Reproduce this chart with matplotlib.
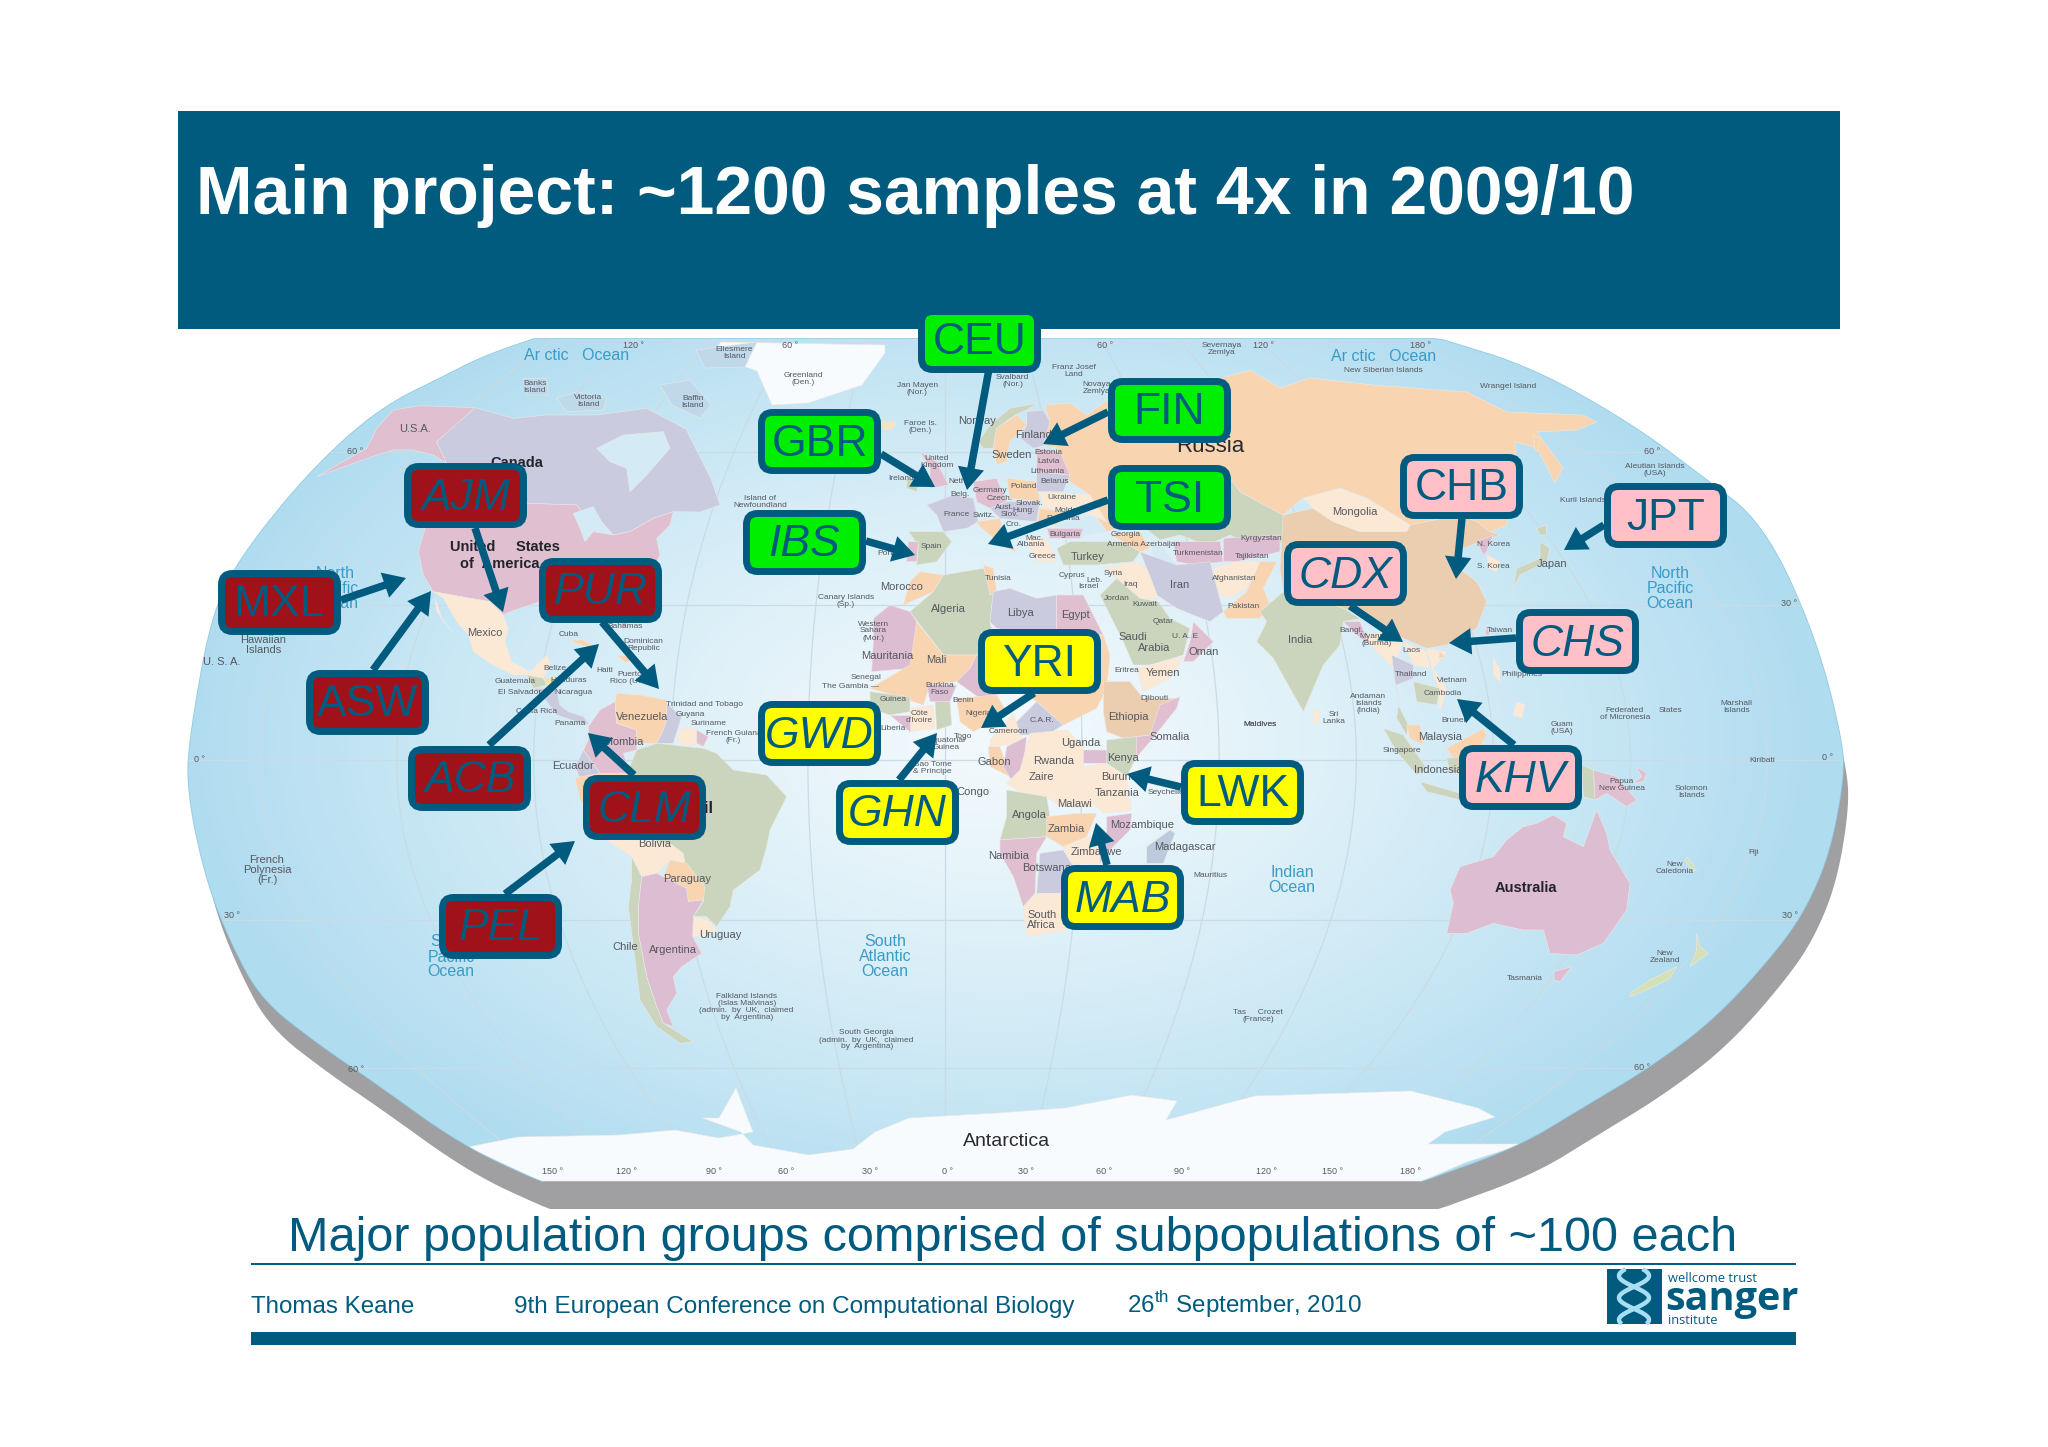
"""Slide: 1000 Genomes main project sample map."""
import numpy as np
import matplotlib
matplotlib.use('Agg')
import matplotlib.pyplot as plt
from matplotlib.patches import FancyBboxPatch, FancyArrowPatch, Polygon, Rectangle, ArrowStyle

plt.rcParams['font.family'] = ['Liberation Sans', 'DejaVu Sans']
plt.rcParams['mathtext.fontset'] = 'custom'
plt.rcParams['mathtext.rm'] = 'Liberation Sans'

TEAL = '#005b7f'
RED = '#9f1219'
GREEN = '#00ee00'
YELLOW = '#ffff00'
ROSE = '#ffc0c8'

# population groups
AMERICAS = ['AJM', 'MXL', 'ASW', 'PUR', 'ACB', 'CLM', 'PEL']
EUROPE = ['CEU', 'GBR', 'IBS', 'FIN', 'TSI']
AFRICA = ['GWD', 'GHN', 'YRI', 'LWK', 'MAB']
ASIA = ['CHB', 'JPT', 'CDX', 'CHS', 'KHV']
ITALIC_CODES = ['AJM', 'PUR', 'ACB', 'CLM', 'PEL', 'IBS', 'GWD', 'GHN', 'MAB', 'CDX', 'CHS', 'KHV']

# box left/top corner in image pixels, then arrow tail and head
BOX_AT = {
    'AJM': (404, 463), 'MXL': (218, 570), 'ASW': (306, 670), 'PUR': (539, 558),
    'ACB': (408, 746), 'CLM': (583, 775), 'PEL': (439, 894),
    'CEU': (918, 308), 'GBR': (758, 409), 'IBS': (743, 510), 'FIN': (1108, 378),
    'TSI': (1108, 465),
    'GWD': (758, 701), 'GHN': (836, 780), 'YRI': (978, 629), 'LWK': (1181, 760),
    'MAB': (1061, 865),
    'CHB': (1400, 454), 'JPT': (1604, 483), 'CDX': (1284, 541), 'CHS': (1516, 609),
    'KHV': (1459, 745),
}
ARROW_AT = {
    'AJM': ((475, 528), (503, 612)), 'MXL': ((341, 600), (406, 578)),
    'ASW': ((373, 670), (431, 591)), 'PUR': ((602, 622), (659, 689)),
    'ACB': ((489, 745), (599, 644)), 'CLM': ((634, 775), (588, 733)),
    'PEL': ((505, 894), (575, 841)),
    'CEU': ((989, 369), (967, 490)), 'GBR': ((881, 454), (935, 487)),
    'IBS': ((866, 541), (915, 555)), 'FIN': ((1108, 412), (1043, 444)),
    'TSI': ((1108, 500), (988, 544)),
    'GHN': ((899, 780), (937, 733)), 'YRI': ((1034, 693), (981, 728)),
    'LWK': ((1181, 787), (1127, 774)), 'MAB': ((1107, 865), (1096, 823)),
    'CHB': ((1462, 518), (1456, 579)), 'JPT': ((1604, 525), (1564, 550)),
    'CDX': ((1350, 606), (1403, 642)), 'CHS': ((1516, 638), (1449, 643)),
    'KHV': ((1514, 745), (1457, 699)),
}

# outline of the globe, clockwise from the top left
GLOBE_EDGE = [(570, 328), (533, 339), (480, 358), (447, 375), (380, 408), (313, 468), (247, 548),
              (213, 608), (190, 735), (187, 790), (206, 880), (232, 945), (262, 1000), (320, 1045),
              (373, 1081), (462, 1145), (540, 1181), (600, 1205), (1360, 1205), (1422, 1181),
              (1517, 1147), (1583, 1107), (1650, 1067), (1717, 1017), (1783, 943), (1810, 900),
              (1830, 850), (1843, 783), (1843, 743), (1815, 635), (1763, 523), (1700, 475),
              (1633, 425), (1533, 368), (1440, 339), (1400, 328)]

# crop frames the tracing was done in: left, top, scale
FRAMES = {'px': (0, 0, 1), 'A': (180, 335, 3), 'S': (500, 700, 3), 'E': (830, 335, 3),
          'F': (850, 600, 3), 'R': (1200, 335, 3), 'P': (1350, 650, 3)}

PINK = '#dfbfd0'
LILAC = '#cacbdf'
ORANGE = '#f8d5b0'
CREAM = '#fbe9d6'
SAGE = '#cbd5bd'
MAUVE = '#ddbdd2'
TAN = '#ebcdb0'
ICE = '#f8fbfd'
WATER = '#d4ebf6'

LAND = [
    (ICE, 'px', [(721, 342), (885, 345), (885, 353), (862, 385), (808, 403), (772, 405), (757, 371), (711, 354)]),
    (PINK, 'A', [(410, 425), (480, 385), (560, 340), (590, 280), (640, 225), (720, 212), (885, 218), (830, 270), (770, 320), (800, 385), (760, 360), (700, 345), (640, 345), (590, 360), (520, 385)]),
    (LILAC, 'A', [(885, 218), (1000, 250), (1100, 240), (1250, 240), (1400, 220), (1518, 282), (1593, 432), (1620, 510), (1560, 531), (1480, 530), (1420, 550), (1350, 590), (1300, 600), (1230, 560), (1190, 510), (1040, 505), (780, 500), (800, 385), (770, 320)]),
    (WATER, 'A', [(1250, 340), (1330, 300), (1450, 290), (1470, 340), (1400, 420), (1350, 470), (1340, 400), (1290, 380)]),
    ('#bfd8ea', 'A', [(1030, 130), (1100, 130), (1105, 180), (1040, 180)]),
    ('#bfd8ea', 'A', [(1130, 190), (1190, 170), (1280, 190), (1270, 225), (1160, 230)]),
    ('#bfd8ea', 'px', [(660, 385), (690, 380), (711, 405), (700, 418), (672, 405)]),
    ('#bfd8ea', 'px', [(696, 350), (757, 342), (745, 367), (705, 368)]),
    (PINK, 'A', [(780, 500), (1040, 505), (1190, 510), (1230, 560), (1300, 600), (1350, 590), (1420, 550), (1480, 530), (1470, 570), (1430, 610), (1440, 660), (1420, 700), (1400, 800), (1330, 880), (1300, 810), (1200, 800), (1080, 800), (990, 830), (970, 840), (930, 800), (870, 790), (760, 770), (730, 720), (715, 650), (735, 580)]),
    (WATER, 'A', [(1180, 535), (1240, 515), (1265, 560), (1300, 600), (1240, 590), (1215, 620), (1200, 580)]),
    (CREAM, 'A', [(760, 770), (870, 790), (930, 800), (970, 840), (985, 880), (975, 920), (995, 980), (1050, 1010), (1100, 960), (1110, 985), (1090, 1030), (1040, 1020), (1000, 1020), (930, 985), (880, 950), (865, 900), (830, 860), (790, 790)]),
    (CREAM, 'A', [(765, 790), (790, 860), (815, 890), (770, 830)]),
    (SAGE, 'A', [(1040, 1020), (1090, 1030), (1100, 1050), (1060, 1060)]),
    ('#f6e2a2', 'A', [(1090, 1030), (1150, 1025), (1110, 1060)]),
    (LILAC, 'A', [(1060, 1060), (1130, 1060), (1140, 1110), (1165, 1130), (1210, 1145), (1230, 1170), (1190, 1160), (1130, 1140), (1100, 1100)]),
    (ORANGE, 'A', [(1170, 915), (1210, 915), (1260, 945), (1190, 925)]),
    (ORANGE, 'A', [(1310, 960), (1360, 965), (1340, 985)]),
    # South America
    (PINK, 'S', [(265, 80), (300, 30), (345, 5), (350, 70), (410, 90), (410, 150), (370, 160), (390, 220), (300, 220), (250, 150), (265, 120)]),
    (ORANGE, 'S', [(345, 5), (350, -20), (420, -15), (500, 0), (500, 60), (490, 90), (470, 130), (410, 130), (410, 90), (350, 70)]),
    (LILAC, 'S', [(500, 10), (545, 50), (520, 130), (470, 130), (490, 90), (500, 60)]),
    (CREAM, 'S', [(545, 85), (590, 85), (590, 130), (560, 140), (530, 120)]),
    (PINK, 'S', [(590, 90), (625, 110), (610, 140), (590, 130)]),
    (LILAC, 'S', [(250, 150), (300, 220), (240, 235), (225, 200)]),
    (ORANGE, 'S', [(225, 235), (245, 230), (300, 220), (390, 220), (420, 380), (400, 450), (320, 420), (240, 300)]),
    (SAGE, 'S', [(410, 150), (470, 130), (520, 135), (560, 140), (610, 145), (650, 160), (700, 210), (800, 225), (860, 290), (810, 390), (800, 440), (780, 510), (700, 570), (690, 620), (650, 680), (620, 650), (580, 650), (610, 605), (610, 550), (560, 500), (510, 480), (500, 440), (430, 400), (400, 300), (380, 220)]),
    (CREAM, 'S', [(320, 420), (400, 420), (420, 420), (510, 430), (550, 460), (555, 490), (500, 490), (470, 520), (425, 530), (395, 470)]),
    (ORANGE, 'S', [(510, 480), (560, 490), (615, 560), (610, 600), (565, 605), (560, 565), (490, 530)]),
    (CREAM, 'S', [(580, 650), (625, 660), (650, 690), (610, 710), (578, 710)]),
    (MAUVE, 'S', [(425, 530), (470, 520), (560, 565), (565, 605), (610, 600), (580, 650), (578, 710), (605, 760), (545, 800), (520, 830), (530, 880), (500, 930), (520, 980), (490, 970), (470, 920), (440, 830), (415, 700), (415, 620)]),
    (SAGE, 'S', [(395, 470), (425, 530), (415, 620), (415, 700), (440, 830), (470, 920), (490, 970), (580, 1025), (540, 1030), (470, 980), (420, 900), (400, 740), (385, 620), (395, 540)]),
    # Antarctica
    (ICE, 'px', [(468, 1147), (518, 1137), (619, 1135), (675, 1130), (719, 1138), (753, 1132), (736, 1088), (719, 1118), (702, 1118), (741, 1132), (753, 1145), (809, 1155), (853, 1149), (875, 1132), (909, 1118), (998, 1113), (1065, 1108), (1132, 1095), (1177, 1101), (1166, 1120), (1221, 1105), (1255, 1096), (1411, 1091), (1478, 1108), (1495, 1117), (1445, 1132), (1428, 1144), (1523, 1144), (1467, 1162), (1422, 1181), (540, 1181)]),
    # Europe and the Middle East
    ('#f6e4c0', 'E', [(150, 260), (200, 260), (190, 280), (160, 285)]),
    (SAGE, 'E', [(445, 320), (480, 270), (540, 220), (620, 205), (590, 225), (555, 240), (500, 280), (490, 340), (460, 340)]),
    (ORANGE, 'E', [(490, 340), (500, 280), (560, 240), (590, 270), (540, 320), (530, 380), (500, 390)]),
    (LILAC, 'E', [(590, 230), (640, 225), (660, 260), (650, 330), (610, 340), (570, 310), (590, 270)]),
    (ORANGE, 'px', [(1045, 405), (1070, 403), (1087, 415), (1110, 398), (1163, 378), (1223, 378), (1250, 370), (1280, 388), (1310, 378), (1373, 385), (1467, 392), (1507, 412), (1583, 415), (1597, 422), (1577, 430), (1537, 432), (1563, 468), (1555, 483), (1537, 448), (1515, 442), (1517, 468), (1507, 525), (1490, 532), (1477, 522), (1460, 515), (1410, 525), (1367, 498), (1340, 488), (1303, 498), (1283, 515), (1240, 492), (1233, 482), (1200, 478), (1165, 500), (1135, 520), (1107, 532), (1097, 518), (1090, 495), (1070, 482), (1063, 468), (1057, 448), (1043, 445), (1050, 422)]),
    (SAGE, 'px', [(1200, 478), (1233, 482), (1240, 492), (1283, 515), (1300, 530), (1270, 550), (1250, 545), (1230, 535), (1207, 545), (1180, 535), (1160, 540), (1135, 520), (1165, 500)]),
    (WATER, 'E', [(960, 620), (1000, 640), (1040, 690), (1010, 710), (975, 680)]),
    (WATER, 'E', [(680, 565), (790, 540), (830, 590), (700, 615)]),
    (MAUVE, 'E', [(1030, 620), (1170, 620), (1180, 680), (1090, 690), (1040, 680)]),
    (MAUVE, 'E', [(1180, 610), (1350, 600), (1350, 650), (1220, 680), (1180, 680)]),
    (CREAM, 'E', [(1150, 700), (1220, 680), (1290, 680), (1250, 760), (1200, 790), (1150, 770)]),
    (ORANGE, 'E', [(1180, 830), (1250, 770), (1290, 680), (1340, 680), (1300, 760), (1320, 810), (1290, 850), (1190, 850)]),
    (LILAC, 'E', [(930, 650), (1040, 690), (1140, 680), (1180, 830), (1140, 860), (1040, 820), (980, 780), (950, 700)]),
    (SAGE, 'E', [(680, 640), (720, 620), (880, 620), (930, 650), (910, 680), (800, 690), (700, 690)]),
    (ORANGE, 'E', [(840, 600), (930, 590), (960, 640), (930, 650), (880, 620)]),
    (CREAM, 'E', [(820, 700), (920, 680), (950, 700), (985, 790), (930, 790), (860, 730)]),
    (SAGE, 'E', [(810, 780), (860, 730), (930, 790), (985, 800), (1020, 850), (1080, 880), (1060, 960), (960, 990), (910, 990), (880, 920)]),
    (PINK, 'E', [(1090, 860), (1150, 920), (1090, 980), (1060, 980), (1080, 920)]),
    (CREAM, 'E', [(920, 1000), (1060, 965), (1020, 1030), (940, 1070)]),
    (PINK, 'E', [(270, 350), (320, 380), (355, 450), (300, 460), (300, 400)]),
    (SAGE, 'E', [(230, 430), (270, 430), (260, 470), (230, 460)]),
    (LILAC, 'E', [(290, 510), (370, 480), (430, 490), (445, 560), (410, 580), (340, 590), (320, 540)]),
    (SAGE, 'E', [(235, 590), (340, 590), (365, 620), (320, 680), (260, 690), (265, 630)]),
    (PINK, 'E', [(235, 620), (265, 620), (260, 680), (230, 680)]),
    (PINK, 'E', [(430, 440), (500, 430), (530, 500), (480, 520), (440, 500)]),
    (ORANGE, 'E', [(530, 430), (620, 440), (630, 500), (540, 490)]),
    (LILAC, 'E', [(480, 520), (530, 500), (630, 500), (620, 560), (510, 550)]),
    (ORANGE, 'E', [(440, 560), (510, 550), (520, 600), (560, 650), (530, 640), (480, 600), (450, 575)]),
    (CREAM, 'E', [(630, 470), (780, 480), (830, 560), (760, 530), (640, 520)]),
    (ORANGE, 'E', [(630, 520), (700, 530), (680, 570), (620, 570)]),
    (MAUVE, 'E', [(650, 580), (760, 580), (750, 610), (660, 610)]),
    (CREAM, 'E', [(590, 610), (650, 610), (680, 680), (620, 680)]),
    (LILAC, 'E', [(620, 410), (720, 420), (700, 470), (620, 470)]),
    (PINK, 'E', [(620, 340), (690, 350), (720, 420), (620, 410)]),
    # Africa
    (ORANGE, 'E', [(270, 710), (340, 720), (310, 770), (220, 810), (240, 740)]),
    (SAGE, 'E', [(340, 720), (460, 700), (490, 770), (480, 860), (490, 910), (440, 960), (340, 960), (240, 830), (310, 770)]),
    (ORANGE, 'E', [(460, 690), (490, 700), (500, 770), (480, 780)]),
    (LILAC, 'E', [(490, 770), (540, 760), (620, 790), (680, 780), (680, 900), (650, 910), (500, 880), (480, 860)]),
    (PINK, 'E', [(680, 780), (760, 780), (810, 880), (820, 900), (680, 890)]),
    (MAUVE, 'E', [(130, 850), (180, 810), (240, 830), (260, 860), (260, 990), (240, 1000), (125, 1010), (130, 920)]),
    (ORANGE, 'E', [(260, 860), (340, 960), (440, 960), (420, 1000), (380, 1040), (300, 1050), (280, 1110), (190, 1080), (120, 1060), (240, 990)]),
    (MAUVE, 'E', [(440, 960), (490, 910), (600, 1000), (560, 1060), (500, 1080), (450, 1090), (380, 1040), (420, 1000)]),
    (ORANGE, 'E', [(650, 910), (820, 900), (840, 960), (830, 1060), (800, 1120), (700, 1170), (620, 1100), (560, 1060), (600, 1000)]),
    (TAN, 'E', [(820, 1040), (900, 1040), (940, 1090), (1050, 1090), (960, 1200), (880, 1210), (830, 1190), (820, 1130)]),
    (PINK, 'E', [(1050, 1085), (1040, 1120), (960, 1220), (900, 1290), (870, 1270), (880, 1210), (960, 1200), (990, 1110)]),
    (ORANGE, 'E', [(380, 1090), (500, 1080), (530, 1130), (470, 1170), (430, 1190), (390, 1160)]),
    (SAGE, 'E', [(120, 1070), (240, 1085), (240, 1130), (180, 1140), (120, 1120)]),
    (CREAM, 'E', [(240, 1120), (310, 1110), (315, 1180), (240, 1190)]),
    (SAGE, 'E', [(315, 1100), (360, 1100), (365, 1170), (320, 1185)]),
    (MAUVE, 'E', [(290, 1050), (380, 1050), (360, 1100), (300, 1100)]),
    (MAUVE, 'E', [(180, 1140), (240, 1140), (240, 1190)]),
    (LILAC, 'E', [(550, 1170), (620, 1100), (700, 1170), (650, 1200), (560, 1200)]),
    (CREAM, 'F', [(420, 420), (490, 340), (510, 400), (520, 430), (420, 440)]),
    (ORANGE, 'F', [(415, 440), (450, 440), (480, 530), (420, 500)]),
    (MAUVE, 'F', [(470, 440), (530, 410), (520, 500), (490, 550), (460, 500)]),
    (CREAM, 'F', [(540, 400), (650, 390), (700, 440), (700, 500), (730, 620), (630, 620), (590, 590), (530, 590), (470, 550), (510, 510)]),
    (MAUVE, 'F', [(700, 450), (780, 450), (770, 490), (700, 490)]),
    (SAGE, 'F', [(770, 420), (860, 410), (860, 470), (830, 530), (770, 490)]),
    (CREAM, 'F', [(700, 500), (770, 490), (830, 530), (845, 630), (760, 640), (720, 600)]),
    (SAGE, 'F', [(470, 570), (590, 590), (600, 650), (590, 710), (450, 720), (470, 650)]),
    (ORANGE, 'F', [(590, 650), (680, 640), (740, 640), (710, 710), (640, 740), (590, 710)]),
    (MAUVE, 'F', [(770, 650), (845, 640), (840, 690), (780, 750), (750, 790), (740, 720), (770, 700)]),
    (CREAM, 'F', [(640, 740), (710, 710), (750, 720), (750, 790), (660, 790)]),
    (PINK, 'F', [(450, 720), (590, 710), (560, 760), (555, 880), (520, 920), (490, 830), (450, 760)]),
    (LILAC, 'F', [(570, 760), (640, 750), (670, 800), (630, 880), (560, 880)]),
    (CREAM, 'F', [(520, 920), (560, 880), (640, 880), (690, 880), (650, 990), (530, 1010)]),
    ('#bccbdc', 'F', [(960, 690), (975, 700), (940, 790), (890, 790), (890, 740)]),
    # Asia
    (TAN, 'R', [(250, 540), (340, 520), (400, 560), (480, 590), (620, 590), (630, 570), (780, 540), (830, 560), (870, 590), (900, 600), (840, 620), (790, 640), (750, 680), (830, 740), (860, 800), (830, 880), (740, 930), (680, 940), (610, 910), (560, 890), (490, 840), (400, 810), (320, 800), (250, 770), (240, 700)]),
    (CREAM, 'R', [(310, 490), (420, 460), (500, 490), (630, 570), (620, 590), (480, 590), (400, 560), (340, 520)]),
    (MAUVE, 'R', [(830, 620), (880, 600), (860, 650), (850, 660)]),
    (CREAM, 'R', [(860, 660), (900, 680), (890, 710), (865, 700)]),
    (SAGE, 'R', [(1020, 620), (1050, 640), (1040, 680), (960, 720), (940, 760), (950, 700), (1020, 670)]),
    (SAGE, 'R', [(1010, 580), (1040, 570), (1040, 600), (1020, 600)]),
    (SAGE, 'R', [(180, 830), (250, 770), (320, 800), (400, 810), (430, 820), (480, 850), (430, 860), (420, 930), (370, 990), (310, 1130), (270, 1060), (220, 970), (170, 920), (200, 860)]),
    (MAUVE, 'R', [(430, 860), (480, 860), (510, 930), (470, 900)]),
    (CREAM, 'R', [(490, 900), (560, 890), (610, 920), (580, 1000), (530, 950)]),
    (LILAC, 'R', [(575, 960), (640, 990), (640, 1030), (590, 1050), (600, 1110), (585, 1040)]),
    (CREAM, 'R', [(610, 920), (680, 950), (690, 1000), (640, 990)]),
    (CREAM, 'R', [(680, 940), (740, 950), (700, 1000), (740, 1060), (720, 1130), (710, 1050)]),
    (SAGE, 'R', [(640, 1040), (720, 1060), (710, 1110), (650, 1100)]),
    (SAGE, 'R', [(595, 1110), (625, 1170), (620, 1200), (590, 1150)]),
    (ORANGE, 'R', [(620, 1170), (660, 1170), (670, 1230), (630, 1210)]),
    (ORANGE, 'R', [(740, 1240), (850, 1180), (860, 1200), (830, 1260), (760, 1270)]),
    (SAGE, 'R', [(550, 1180), (610, 1200), (680, 1300), (650, 1320), (590, 1250)]),
    (SAGE, 'R', [(740, 1270), (830, 1260), (800, 1320), (750, 1310)]),
    (SAGE, 'R', [(660, 1340), (800, 1380), (780, 1395), (680, 1370)]),
    (CREAM, 'R', [(340, 1120), (360, 1130), (355, 1170), (340, 1165)]),
    (CREAM, 'R', [(880, 970), (900, 1000), (900, 1040), (880, 1020)]),
    (CREAM, 'R', [(950, 1100), (975, 1110), (965, 1150), (940, 1140)]),
    (PINK, 'R', [(860, 870), (870, 900), (855, 900)]),
    (ORANGE, 'R', [(720, 950), (735, 965), (715, 970)]),
    (ORANGE, 'R', [(1000, 300), (1020, 310), (1015, 350), (1005, 345)]),
    (MAUVE, 'P', [(290, 850), (310, 760), (300, 720), (330, 650), (430, 620), (470, 570), (520, 530), (560, 520), (610, 495), (650, 520), (640, 560), (700, 590), (740, 480), (770, 550), (780, 600), (840, 700), (830, 780), (760, 880), (680, 915), (600, 910), (580, 840), (520, 840), (430, 820), (350, 850)]),
    (MAUVE, 'P', [(612, 965), (665, 950), (630, 995), (612, 990)]),
    ('#d5e0b4', 'P', [(1040, 850), (1050, 890), (1075, 910), (1020, 950), (1040, 900)]),
    ('#d5e0b4', 'P', [(840, 1030), (900, 990), (980, 950), (960, 985), (890, 1020), (840, 1040)]),
    (PINK, 'P', [(730, 360), (800, 380), (860, 450), (830, 470), (770, 430), (735, 450)]),
    (SAGE, 'P', [(695, 345), (730, 360), (735, 450), (700, 440)]),
    (PINK, 'P', [(860, 350), (890, 370), (880, 395), (850, 400), (875, 380)]),
    ('#d5e0b4', 'P', [(1010, 620), (1040, 660), (1030, 665), (1005, 630)]),
]

COUNTRY_NAMES = [  # size 8
    ('Mexico', 'A', 915, 893), ('Venezuela', 'A', 1385, 1147), ('Colombia', 'A', 1320, 1222),
    ('Ecuador', 'A', 1178, 1293), ('U.S.A.', 'A', 705, 282), ('U. S. A.', 'A', 125, 982),
    ('Hawaiian\nIslands', 'A', 250, 930),
    ('Bolivia', 'S', 465, 433), ('Paraguay', 'S', 560, 538), ('Uruguay', 'S', 660, 705),
    ('Chile', 'S', 375, 740), ('Argentina', 'S', 520, 750),
    ('Norway', 'E', 440, 257), ('Finland', 'E', 610, 300), ('Sweden', 'E', 545, 360),
    ('Turkey', 'E', 772, 665), ('Iran', 'E', 1048, 750), ('Saudi', 'E', 908, 905),
    ('Arabia', 'E', 972, 940), ('Oman', 'E', 1120, 950), ('Yemen', 'E', 1000, 1015),
    ('Ethiopia', 'E', 895, 1145), ('Somalia', 'E', 1020, 1205), ('Kenya', 'E', 878, 1270),
    ('Uganda', 'E', 752, 1225), ('Mauritania', 'E', 172, 963), ('Mali', 'E', 318, 975),
    ('Morocco', 'E', 215, 757), ('Algeria', 'E', 355, 822), ('Libya', 'E', 570, 835),
    ('Egypt', 'E', 735, 840),
    ('Gabon', 'F', 432, 485), ('Rwanda', 'F', 612, 482), ('Zaire', 'F', 575, 530),
    ('Burundi', 'F', 812, 532), ('Tanzania', 'F', 802, 578), ('Congo', 'F', 370, 575),
    ('Malawi', 'F', 672, 612), ('Angola', 'F', 537, 645), ('Zambia', 'F', 650, 688),
    ('Mozambique', 'F', 875, 675), ('Madagascar', 'F', 1005, 742), ('Zimbabwe', 'F', 740, 755),
    ('Namibia', 'F', 475, 768), ('Botswana', 'F', 590, 805), ('South\nAfrica', 'F', 575, 960),
    ('Mongolia', 'R', 463, 530), ('Japan', 'R', 1055, 688), ('India', 'R', 300, 915),
    ('Malaysia', 'R', 720, 1207), ('Indonesia', 'R', 715, 1305),
    ('French\nPolynesia\n(Fr.)', 'px', 267, 870),
]
TINY_NAMES = [  # size 6
    ('Banks\nIsland', 'A', 1065, 155), ('Victoria\nIsland', 'A', 1225, 198), ('Cuba', 'A', 1165, 897),
    ('Bahamas', 'A', 1335, 875), ('Dominican\nRepublic', 'A', 1390, 930), ('Haiti', 'A', 1275, 1005),
    ('Puerto\nRico (U.S.)', 'A', 1350, 1030), ('Belize', 'A', 1125, 1002), ('Honduras', 'A', 1165, 1035),
    ('Guatemala', 'A', 1005, 1040), ('El Salvador', 'A', 1020, 1073), ('Nicaragua', 'A', 1180, 1073),
    ('Costa Rica', 'A', 1070, 1130), ('Panama', 'A', 1170, 1165),
    ('Trinidad and Tobago', 'S', 615, 15), ('Guyana', 'S', 570, 45), ('Suriname', 'S', 625, 70),
    ('French Guiana\n(Fr.)', 'S', 700, 110),
    ('Falkland Islands\n(Islas Malvinas)\n(admin.  by  UK,  claimed\nby  Argentina)', 'S', 740, 920),
    ('South Georgia\n(admin.  by  UK,  claimed\nby  Argentina)', 'S', 1100, 1020),
    ('Ellesmere\nIsland', 'px', 734, 353), ('Baffin\nIsland', 'px', 693, 402),
    ('Island of\nNewfoundland', 'px', 760, 502), ('Canary Islands\n(Sp.)', 'px', 846, 601),
    ('Jan Mayen\n(Nor.)', 'E', 262, 162), ('Faroe Is.\n(Den.)', 'E', 270, 277),
    ('Svalbard\n(Nor.)', 'E', 548, 138), ('Franz Josef\nLand', 'E', 732, 108),
    ('Novaya\nZemlya', 'E', 800, 158), ('Severnaya\nZemlya', 'E', 1175, 42),
    ('Estonia', 'E', 655, 353), ('Latvia', 'E', 655, 380), ('Lithuania', 'E', 652, 410),
    ('Belarus', 'E', 675, 440), ('United\nKingdom', 'E', 320, 380), ('Ireland', 'E', 215, 430),
    ('Neth.', 'E', 385, 440), ('Belg.', 'E', 390, 478), ('Germany', 'E', 480, 465),
    ('Poland', 'E', 580, 453), ('Czech.', 'E', 510, 490), ('Slovak.', 'E', 600, 505),
    ('Ukraine', 'E', 695, 487), ('Aust.', 'E', 523, 518), ('Hung.', 'E', 580, 525),
    ('Slov.', 'E', 540, 540), ('Moldova', 'E', 720, 525), ('France', 'E', 378, 537),
    ('Switz.', 'E', 460, 542), ('Cro.', 'E', 550, 568), ('Romania', 'E', 700, 550),
    ('Spain', 'E', 305, 635), ('Port.', 'E', 170, 655), ('Bulgaria', 'E', 705, 598),
    ('Mac.', 'E', 615, 610), ('Albania', 'E', 603, 628), ('Greece', 'E', 637, 665),
    ('Georgia', 'E', 888, 597), ('Armenia Azerbaijan', 'E', 940, 628),
    ('Turkmenistan', 'E', 1105, 655), ('Tajikistan', 'E', 1268, 665), ('Kyrgyzstan', 'E', 1295, 612),
    ('Afghanistan', 'E', 1212, 730), ('Pakistan', 'E', 1240, 815), ('Syria', 'E', 850, 715),
    ('Iraq', 'E', 903, 748), ('Jordan', 'E', 862, 792), ('Kuwait', 'E', 945, 810),
    ('Qatar', 'E', 1000, 860), ('U. A. E', 'E', 1065, 903), ('Eritrea', 'E', 890, 1005),
    ('Djibouti', 'E', 972, 1090), ('Maldives', 'E', 1290, 1170), ('C.A.R.', 'E', 635, 1158),
    ('Cameroon', 'E', 535, 1190), ('Nigeria', 'E', 445, 1135), ('Benin', 'E', 400, 1098),
    ('Burkina\nFaso', 'E', 330, 1062), ('Guinea', 'E', 190, 1093), ("Côte\nd'Ivoire", 'E', 268, 1145),
    ('Liberia', 'E', 190, 1182), ('Togo', 'E', 398, 1205), ('Western\nSahara\n(Mor.)', 'E', 130, 888),
    ('Tunisia', 'E', 505, 730), ('Cyprus', 'E', 725, 722), ('Leb.', 'E', 795, 735),
    ('Israel', 'E', 775, 755), ('Senegal', 'E', 108, 1028), ('The Gambia —', 'E', 60, 1055),
    ('Equatorial\nGuinea', 'F', 288, 432), ('Sao Tome\n& Principe', 'F', 248, 505),
    ('Seychelles', 'F', 955, 578), ('Mauritius', 'F', 1080, 827), ('Tas     Crozet\n(France)', 'F', 1225, 1248),
    ('New Siberian Islands', 'R', 550, 105), ('Wrangel Island', 'R', 925, 153),
    ('Kuril Islands', 'R', 1150, 497), ('Aleutian Islands\n(USA)', 'R', 1365, 405),
    ('N. Korea', 'R', 880, 630), ('S. Korea', 'R', 880, 695), ('Bangl.', 'R', 455, 888),
    ('Myanmar\n(Burma)', 'R', 530, 915), ('Laos', 'R', 635, 945), ('Thailand', 'R', 632, 1017),
    ('Vietnam', 'R', 757, 1035), ('Cambodia', 'R', 728, 1075), ('Philippines', 'R', 965, 1017),
    ('Taiwan', 'R', 900, 888), ('Andaman\nIslands\n(India)', 'R', 505, 1105),
    ('Sri\nLanka', 'R', 400, 1148), ('Maldives', 'R', 180, 1170), ('Brunei', 'R', 760, 1157),
    ('Singapore', 'R', 605, 1245), ('Federated\nof Micronesia', 'R', 1275, 1138), ('Guam\n(USA)', 'R', 1085, 1180),
    ('Marshall\nIslands', 'P', 1160, 170), ('States', 'P', 960, 180), ('Papua\nNew Guinea', 'P', 815, 405),
    ('Solomon\nIslands', 'P', 1025, 425), ('Kiribati', 'P', 1238, 330), ('Fiji', 'P', 1210, 607),
    ('New\nCaledonia', 'P', 975, 655), ('New\nZealand', 'P', 945, 920), ('Tasmania', 'P', 523, 985),
    ('Greenland\n(Den.)', 'px', 803, 379),
]
BOLD_NAMES = [
    ('Canada', 'A', 1010, 385, 10.5), ('United     States', 'A', 975, 637, 10.5),
    ('of  America', 'A', 960, 688, 10.5), ('Brazil', 'S', 575, 325, 12),
    ('Australia', 'P', 527, 715, 10.5),
]
PLAIN_NAMES = [
    ('Russia', 'E', 1140, 335, 16), ('Antarctica', 'px', 1007, 1141, 14),
]
OCEAN_NAMES = [
    ('Ar ctic   Ocean', 'A', 1190, 62), ('Ar ctic   Ocean', 'R', 550, 65),
    ('North\nPacific\nOcean', 'R', 1410, 760), ('North\nPacific\nOcean', 'A', 465, 760),
    ('South\nAtlantic\nOcean', 'S', 1155, 770), ('Indian\nOcean', 'px', 1292, 880),
    ('South\nPacific\nOcean', 'px', 451, 957),
]
GRATICULE_MARKS = [
    ('120 °', 'A', 1360, 30), ('60 °', 'A', 525, 350), ('0 °', 'A', 60, 1272), ('60 °', 'E', 825, 30),
    ('120 °', 'E', 1300, 30), ('180 °', 'R', 660, 30), ('60 °', 'R', 1355, 350), ('30 °', 'px', 1789, 604),
    ('0 °', 'px', 1827, 757), ('30 °', 'px', 1790, 915), ('60 °', 'px', 1642, 1067), ('30 °', 'px', 232, 916),
    ('60 °', 'px', 356, 1069), ('60 °', 'px', 790, 345),
]
BOTTOM_LON_LABELS = ['150 °', '120 °', '90 °', '60 °', '30 °', '0 °', '30 °', '60 °', '90 °', '120 °', '150 °', '180 °']
BOTTOM_LON_X = [552, 627, 714, 786, 870, 948, 1026, 1104, 1182, 1266, 1333, 1411]
MERIDIANS = [-150, -120, -90, -60, -30, 0, 30, 60, 90, 120, 150, 180]
PARALLEL_Y = [452, 605, 760, 920, 1068]


def to_px(frame, x, y):
    left, top, scale = FRAMES[frame]
    return left + x / scale, top + y / scale


def smooth(points, rounds=3):
    """Chaikin corner cutting for the hand traced outline."""
    pts = np.array(points, dtype=float)
    for _ in range(rounds):
        q = 0.75 * pts[:-1] + 0.25 * pts[1:]
        r = 0.25 * pts[:-1] + 0.75 * pts[1:]
        pts = np.vstack([pts[0], np.column_stack([q, r]).reshape(-1, 2), pts[-1]])
    return pts


def draw_names(ax, names, **style):
    for item in names:
        label, frame, x, y = item[:4]
        if len(item) > 4:
            style['fontsize'] = item[4]
        px, py = to_px(frame, x, y)
        ax.text(px, py, label, ha='center', va='center', linespacing=1.0, zorder=5, **style)


fig = plt.figure(figsize=(20.48, 14.47), dpi=100)
ax = fig.add_axes([0, 0, 1, 1])

# globe and shadow
edge = smooth(GLOBE_EDGE)
edge[:, 1] = np.clip(edge[:, 1], 339, 1181)
shadow = edge.copy()
right_side = edge[:, 0] >= 1000
shadow[~right_side, 0] += 8
shadow[right_side, 0] += 5 + 12 * np.clip((edge[right_side, 1] - 760) / 421, 0, 1)
shadow[:, 1] += 28
ax.add_patch(Polygon(shadow, closed=True, fc='#a0a0a2', ec='none', zorder=1))

globe = Polygon(edge, closed=True, fc='#bfe2f2', ec='#8fcbe4', lw=1.2, zorder=2)
ax.add_patch(globe)

yy, xx = np.mgrid[339:1182, 170:1860]
r = np.clip(np.hypot((xx - 1000) / 820, (yy - 740) / 500), 0, 1)[..., None]
inner = np.array([0xf2, 0xf9, 0xfc]) / 255
outer = np.array([0xb0, 0xdc, 0xf0]) / 255
ocean = inner + (outer - inner) * r ** 1.3
img = ax.imshow(ocean, extent=(170, 1860, 1182, 339), aspect='auto', zorder=2.5)
img.set_clip_path(globe)

# graticule
for y in PARALLEL_Y:
    ln, = ax.plot([170, 1860], [y, y], color='#c9dbe4', lw=0.9, zorder=3)
    ln.set_clip_path(globe)
ys = np.linspace(339, 1181, 120)
for lon in MERIDIANS:
    xs = 945 + lon * (2.6 + 1.97 * (1 - ((ys - 760) / 421) ** 2))
    ln, = ax.plot(xs, ys, color='#c9dbe4', lw=0.9, zorder=3)
    ln.set_clip_path(globe)

for colour, frame, pts in LAND:
    poly = [to_px(frame, x, y) for x, y in pts]
    p = Polygon(poly, closed=True, fc=colour, ec='#ece9e6', lw=0.4, zorder=4)
    ax.add_patch(p)
    p.set_clip_path(globe)

NAME_COLOUR = '#55585f'
draw_names(ax, COUNTRY_NAMES, color=NAME_COLOUR, fontsize=8)
draw_names(ax, TINY_NAMES, color=NAME_COLOUR, fontsize=6)
draw_names(ax, GRATICULE_MARKS, color=NAME_COLOUR, fontsize=6.5)
draw_names(ax, BOLD_NAMES, color='#23232b', fontweight='bold')
draw_names(ax, PLAIN_NAMES, color='#2a2a30')
draw_names(ax, OCEAN_NAMES, color='#3a9cc6', fontsize=11.5)
for label, x in zip(BOTTOM_LON_LABELS, BOTTOM_LON_X):
    ax.text(x, 1171, label, ha='center', va='center', fontsize=6.5, color=NAME_COLOUR, zorder=5)

# header
ax.add_patch(Rectangle((178, 111), 1662, 218, fc=TEAL, ec='none', zorder=7))
ax.text(196, 214, 'Main project: ~1200 samples at 4x in 2009/10', color='white',
        fontsize=48.9, fontweight='bold', ha='left', va='baseline', zorder=7.5)

# population boxes
BOX_FILL = {}
BOX_FILL.update({c: RED for c in AMERICAS})
BOX_FILL.update({c: GREEN for c in EUROPE})
BOX_FILL.update({c: YELLOW for c in AFRICA})
BOX_FILL.update({c: ROSE for c in ASIA})

arrow_style = ArrowStyle('Simple', head_length=16, head_width=19, tail_width=5.4)
for code, (tail, head) in ARROW_AT.items():
    ax.add_patch(FancyArrowPatch(tail, head, arrowstyle=arrow_style, mutation_scale=1,
                                 shrinkA=0, shrinkB=0, fc=TEAL, ec='none', lw=0, zorder=8))

for code, (left, top) in BOX_AT.items():
    ax.add_patch(FancyBboxPatch((left + 3.5, top + 3.5), 116, 58,
                                boxstyle='round,pad=0,rounding_size=11',
                                fc=BOX_FILL[code], ec=TEAL, lw=5, zorder=9))
    ax.text(left + 61.5, top + 35, code, color=TEAL, fontsize=32, ha='center', va='center',
            style='italic' if code in ITALIC_CODES else 'normal', zorder=10)

# footer
ax.text(1013, 1251, 'Major population groups comprised of subpopulations of ~100 each',
        color=TEAL, fontsize=35, ha='center', va='baseline', zorder=7)
ax.plot([251, 1796], [1264, 1264], color=TEAL, lw=1.4, solid_capstyle='butt', zorder=7)
ax.add_patch(Rectangle((251, 1332), 1545, 13, fc=TEAL, ec='none', zorder=7))
ax.text(251, 1313, 'Thomas Keane', color=TEAL, fontsize=17.4, va='baseline', zorder=7)
ax.text(514, 1313, '9th European Conference on Computational Biology', color=TEAL,
        fontsize=17.5, va='baseline', zorder=7)
ax.text(1127, 1313, r'26$^{\mathrm{th}}$ September, 2010', color=TEAL, fontsize=17.4,
        va='baseline', zorder=7)

# sanger logo
ax.add_patch(Rectangle((1607, 1269), 55, 55, fc=TEAL, ec='none', zorder=7))
hy = np.linspace(1269, 1324, 80)
for phase in (0, np.pi):
    ax.plot(1634 + 15 * np.sin((hy - 1269) / 55 * 2 * np.pi * 1.25 + phase + 0.6), hy,
            color='#a8def3', lw=3.2, zorder=7.5, solid_capstyle='butt')
ax.text(1668, 1282, 'wellcome trust', color=TEAL, fontsize=9.3, family='Open Sans', va='baseline', zorder=7)
ax.text(1665, 1310, 'sanger', color=TEAL, fontsize=28.5, family='Open Sans', fontweight='bold', va='baseline', zorder=7)
ax.text(1668, 1324, 'institute', color=TEAL, fontsize=9.3, family='Open Sans', va='baseline', zorder=7)

ax.set_xlim(0, 2048)
ax.set_ylim(1447, 0)
ax.axis('off')

plt.savefig('out.png', dpi=100, facecolor='white')
plt.close()
